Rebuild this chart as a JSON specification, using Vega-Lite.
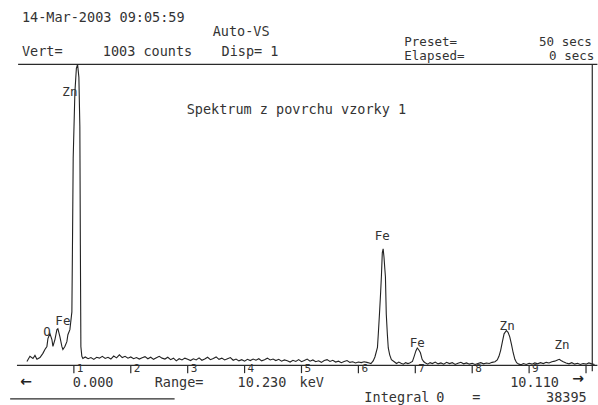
{
  "$schema": "https://vega.github.io/schema/vega-lite/v6.json",
  "width": 598,
  "height": 405,
  "padding": 0,
  "autosize": {"type": "fit", "contains": "padding"},
  "background": "white",
  "config": {"view": {"stroke": null}},
  "datasets": {
    "spectrum": [
      {"k":0.175,"c":13},{"k":0.228,"c":30},{"k":0.281,"c":23},{"k":0.316,"c":33},{"k":0.351,"c":20},{"k":0.404,"c":26},{"k":0.456,"c":40},{"k":0.491,"c":53},{"k":0.526,"c":63},{"k":0.544,"c":89},{"k":0.579,"c":106},{"k":0.614,"c":86},{"k":0.632,"c":63},{"k":0.667,"c":86},{"k":0.702,"c":119},{"k":0.719,"c":122},{"k":0.754,"c":96},{"k":0.789,"c":63},{"k":0.807,"c":53},{"k":0.842,"c":63},{"k":0.877,"c":79},{"k":0.895,"c":102},{"k":0.93,"c":119},{"k":0.965,"c":178},{"k":0.977,"c":436},{"k":0.988,"c":690},{"k":1.018,"c":911},{"k":1.044,"c":990},{"k":1.065,"c":1003},{"k":1.088,"c":960},{"k":1.105,"c":795},{"k":1.114,"c":400},{"k":1.123,"c":63},{"k":1.14,"c":30},{"k":1.158,"c":23},
      {"k":1.2,"c":28},{"k":1.25,"c":22},{"k":1.3,"c":26},{"k":1.35,"c":20},{"k":1.4,"c":27},{"k":1.45,"c":24},{"k":1.5,"c":30},{"k":1.55,"c":23},{"k":1.6,"c":27},{"k":1.65,"c":21},{"k":1.7,"c":31},{"k":1.75,"c":25},{"k":1.8,"c":35},{"k":1.85,"c":26},{"k":1.9,"c":30},{"k":1.95,"c":24},{"k":2.0,"c":28},{"k":2.05,"c":22},{"k":2.1,"c":26},{"k":2.15,"c":21},{"k":2.2,"c":25},{"k":2.25,"c":29},{"k":2.3,"c":22},{"k":2.35,"c":27},{"k":2.4,"c":20},{"k":2.45,"c":25},{"k":2.5,"c":30},{"k":2.55,"c":24},{"k":2.6,"c":21},{"k":2.65,"c":27},{"k":2.7,"c":19},{"k":2.75,"c":24},{"k":2.8,"c":15},{"k":2.85,"c":22},{"k":2.9,"c":18},{"k":2.95,"c":24},{"k":3.0,"c":20},{"k":3.05,"c":16},{"k":3.1,"c":22},{"k":3.15,"c":18},{"k":3.2,"c":25},{"k":3.25,"c":17},{"k":3.3,"c":21},{"k":3.35,"c":27},{"k":3.4,"c":19},{"k":3.45,"c":23},{"k":3.5,"c":28},{"k":3.55,"c":20},{"k":3.6,"c":24},{"k":3.65,"c":18},{"k":3.7,"c":22},{"k":3.75,"c":26},{"k":3.8,"c":17},{"k":3.85,"c":21},{"k":3.9,"c":15},{"k":3.95,"c":19},{"k":4.0,"c":14},{"k":4.05,"c":20},{"k":4.1,"c":16},{"k":4.15,"c":21},{"k":4.2,"c":17},{"k":4.25,"c":22},{"k":4.3,"c":15},{"k":4.35,"c":19},{"k":4.4,"c":24},{"k":4.45,"c":18},{"k":4.5,"c":21},{"k":4.55,"c":16},{"k":4.6,"c":20},{"k":4.65,"c":14},{"k":4.7,"c":18},{"k":4.75,"c":15},{"k":4.8,"c":11},{"k":4.85,"c":17},{"k":4.9,"c":13},{"k":4.95,"c":19},{"k":5.0,"c":12},{"k":5.05,"c":16},{"k":5.1,"c":21},{"k":5.15,"c":14},{"k":5.2,"c":18},{"k":5.25,"c":12},{"k":5.3,"c":15},{"k":5.35,"c":10},{"k":5.4,"c":16},{"k":5.45,"c":19},{"k":5.5,"c":13},{"k":5.55,"c":17},{"k":5.6,"c":11},{"k":5.65,"c":14},{"k":5.7,"c":9},{"k":5.75,"c":13},{"k":5.8,"c":16},{"k":5.85,"c":10},{"k":5.9,"c":12},{"k":5.95,"c":8},{"k":6.0,"c":11},{"k":6.05,"c":9},{"k":6.1,"c":12},{"k":6.15,"c":10},{"k":6.19,"c":8},
      {"k":6.22,"c":6},{"k":6.26,"c":15},{"k":6.29,"c":28},{"k":6.31,"c":42},{"k":6.335,"c":60},{"k":6.35,"c":105},{"k":6.37,"c":170},{"k":6.39,"c":240},{"k":6.405,"c":300},{"k":6.42,"c":375},{"k":6.435,"c":388},{"k":6.45,"c":360},{"k":6.465,"c":320},{"k":6.475,"c":295},{"k":6.49,"c":170},{"k":6.51,"c":100},{"k":6.525,"c":58},{"k":6.55,"c":35},{"k":6.58,"c":19},{"k":6.63,"c":12},
      {"k":6.67,"c":6},{"k":6.71,"c":11},{"k":6.75,"c":7},{"k":6.79,"c":4},{"k":6.83,"c":9},{"k":6.87,"c":6},{"k":6.9,"c":8},{"k":6.95,"c":13},{"k":6.98,"c":30},{"k":7.01,"c":48},{"k":7.035,"c":58},{"k":7.06,"c":52},{"k":7.09,"c":42},{"k":7.12,"c":20},{"k":7.15,"c":12},{"k":7.18,"c":8},{"k":7.22,"c":4},{"k":7.26,"c":9},{"k":7.3,"c":6},{"k":7.35,"c":11},{"k":7.4,"c":5},{"k":7.45,"c":8},{"k":7.5,"c":4},{"k":7.55,"c":10},{"k":7.6,"c":6},{"k":7.65,"c":9},{"k":7.7,"c":3},{"k":7.75,"c":7},{"k":7.8,"c":10},{"k":7.85,"c":5},{"k":7.9,"c":8},{"k":7.95,"c":4},{"k":8.0,"c":7},{"k":8.05,"c":3},{"k":8.1,"c":6},{"k":8.15,"c":9},{"k":8.2,"c":5},{"k":8.25,"c":8},{"k":8.3,"c":6},{"k":8.35,"c":10},
      {"k":8.4,"c":12},{"k":8.44,"c":18},{"k":8.47,"c":30},{"k":8.5,"c":50},{"k":8.53,"c":78},{"k":8.56,"c":105},{"k":8.6,"c":116},{"k":8.63,"c":110},{"k":8.66,"c":95},{"k":8.69,"c":70},{"k":8.72,"c":42},{"k":8.75,"c":20},{"k":8.78,"c":9},{"k":8.82,"c":4},
      {"k":8.86,"c":2},{"k":8.9,"c":6},{"k":8.95,"c":3},{"k":9.0,"c":7},{"k":9.05,"c":4},{"k":9.1,"c":8},{"k":9.15,"c":5},{"k":9.2,"c":9},{"k":9.25,"c":6},{"k":9.3,"c":10},{"k":9.35,"c":8},{"k":9.4,"c":12},{"k":9.45,"c":14},{"k":9.5,"c":18},{"k":9.53,"c":20},{"k":9.56,"c":16},{"k":9.6,"c":12},{"k":9.65,"c":8},{"k":9.7,"c":5},{"k":9.75,"c":9},{"k":9.8,"c":4},{"k":9.85,"c":7},{"k":9.9,"c":3},{"k":9.95,"c":6},{"k":10.0,"c":4},{"k":10.05,"c":8},{"k":10.1,"c":5},{"k":10.15,"c":3}
    ],
    "hlines": [
      {"k1":0.0,"k2":10.2,"c":0},
      {"k1":0.02,"k2":10.2,"c":1003},
      {"k1":-0.12,"k2":2.77,"c":-112}
    ],
    "vlines": [
      {"k":10.11,"c1":-20,"c2":1003}
    ],
    "ticks": [
      {"k":1,"lab":"1"},{"k":2,"lab":"2"},{"k":3,"lab":"3"},{"k":4,"lab":"4"},{"k":5,"lab":"5"},{"k":6,"lab":"6"},{"k":7,"lab":"7"},{"k":8,"lab":"8"},{"k":9,"lab":"9"},{"k":10,"lab":""}
    ],
    "header": [
      {"k":0.088,"c":1158,"t":"14-Mar-2003 09:05:59"},
      {"k":3.44,"c":1112,"t":"Auto-VS"},
      {"k":0.088,"c":1043,"t":"Vert="},
      {"k":1.509,"c":1043,"t":"1003 counts"},
      {"k":3.596,"c":1043,"t":"Disp= 1"},
      {"k":2.982,"c":851,"t":"Spektrum z povrchu vzorky 1"},
      {"k":0.982,"c":-59,"t":"0.000"},
      {"k":2.421,"c":-59,"t":"Range="},
      {"k":3.877,"c":-59,"t":"10.230"},
      {"k":4.965,"c":-59,"t":"keV"},
      {"k":8.667,"c":-59,"t":"10.110"},
      {"k":6.105,"c":-108,"t":"Integral"},
      {"k":7.368,"c":-108,"t":"0"},
      {"k":8.0,"c":-108,"t":"="},
      {"k":9.298,"c":-108,"t":"38395"}
    ],
    "preset": [
      {"k":6.807,"c":1079,"t":"Preset="},
      {"k":9.175,"c":1079,"t":"50 secs"},
      {"k":6.807,"c":1031,"t":"Elapsed="},
      {"k":9.351,"c":1031,"t":"0 secs"}
    ],
    "arrows": [
      {"k":0.16,"c":-55,"t":"←"},
      {"k":9.86,"c":-46,"t":"→"}
    ],
    "peaks": [
      {"k":0.93,"c":911,"t":"Zn"},
      {"k":0.53,"c":110,"t":"O"},
      {"k":0.807,"c":148,"t":"Fe"},
      {"k":6.42,"c":432,"t":"Fe"},
      {"k":7.035,"c":73,"t":"Fe"},
      {"k":8.614,"c":132,"t":"Zn"},
      {"k":9.579,"c":69,"t":"Zn"}
    ]
  },
  "encoding": {
    "x": {"type": "quantitative", "scale": {"domain": [-0.2982, 10.193], "nice": false, "zero": false}, "axis": null},
    "y": {"type": "quantitative", "scale": {"domain": [-118.8, 1217.4], "nice": false, "zero": false}, "axis": null}
  },
  "layer": [
    {
      "data": {"name": "hlines"},
      "mark": {"type": "rule", "color": "#2a2a2a", "strokeWidth": 1.2},
      "encoding": {
        "x": {"field": "k1", "type": "quantitative"},
        "x2": {"field": "k2"},
        "y": {"field": "c", "type": "quantitative"}
      }
    },
    {
      "data": {"name": "vlines"},
      "mark": {"type": "rule", "color": "#2a2a2a", "strokeWidth": 1.2},
      "encoding": {
        "x": {"field": "k", "type": "quantitative"},
        "y": {"field": "c1", "type": "quantitative"},
        "y2": {"field": "c2"}
      }
    },
    {
      "data": {"name": "ticks"},
      "mark": {"type": "rule", "color": "#2a2a2a", "strokeWidth": 1.2},
      "encoding": {
        "x": {"field": "k", "type": "quantitative"},
        "y": {"datum": 0, "type": "quantitative"},
        "y2": {"datum": -26}
      }
    },
    {
      "data": {"name": "ticks"},
      "mark": {"type": "text", "font": "DejaVu Sans Mono", "fontSize": 11, "color": "#333", "align": "left", "baseline": "middle", "dx": 3},
      "encoding": {
        "x": {"field": "k", "type": "quantitative"},
        "y": {"datum": -13, "type": "quantitative"},
        "text": {"field": "lab"}
      }
    },
    {
      "data": {"name": "spectrum"},
      "mark": {"type": "line", "color": "#222", "strokeWidth": 1.1, "clip": true},
      "encoding": {
        "x": {"field": "k", "type": "quantitative"},
        "y": {"field": "c", "type": "quantitative"}
      }
    },
    {
      "data": {"name": "header"},
      "mark": {"type": "text", "font": "DejaVu Sans Mono", "fontSize": 13.5, "color": "#333", "align": "left", "baseline": "middle"},
      "encoding": {
        "x": {"field": "k", "type": "quantitative"},
        "y": {"field": "c", "type": "quantitative"},
        "text": {"field": "t"}
      }
    },
    {
      "data": {"name": "preset"},
      "mark": {"type": "text", "font": "DejaVu Sans Mono", "fontSize": 12.5, "color": "#333", "align": "left", "baseline": "middle"},
      "encoding": {
        "x": {"field": "k", "type": "quantitative"},
        "y": {"field": "c", "type": "quantitative"},
        "text": {"field": "t"}
      }
    },
    {
      "data": {"name": "arrows"},
      "mark": {"type": "text", "font": "DejaVu Sans", "fontSize": 14, "fontWeight": "bold", "color": "#222", "align": "center", "baseline": "middle"},
      "encoding": {
        "x": {"field": "k", "type": "quantitative"},
        "y": {"field": "c", "type": "quantitative"},
        "text": {"field": "t"}
      }
    },
    {
      "data": {"name": "peaks"},
      "mark": {"type": "text", "font": "DejaVu Sans Mono", "fontSize": 12.5, "color": "#333", "align": "center", "baseline": "middle"},
      "encoding": {
        "x": {"field": "k", "type": "quantitative"},
        "y": {"field": "c", "type": "quantitative"},
        "text": {"field": "t"}
      }
    }
  ]
}
